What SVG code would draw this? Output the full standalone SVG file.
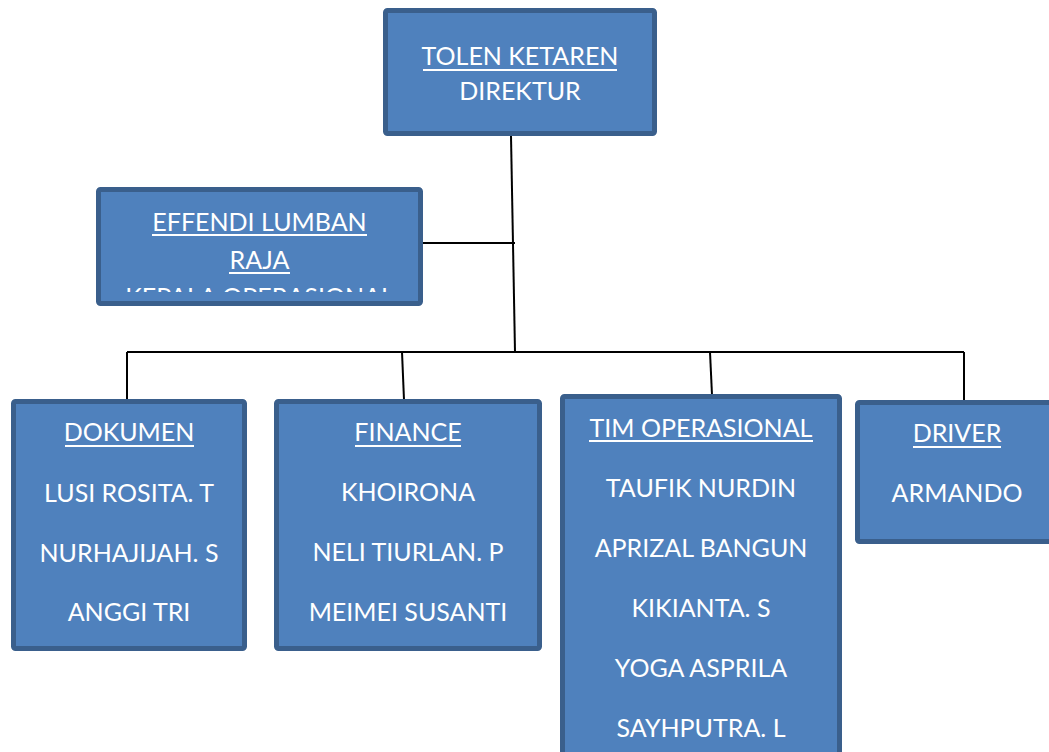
<svg xmlns="http://www.w3.org/2000/svg" width="1049" height="752" viewBox="0 0 1049 752">
<style>
.box{fill:#4F81BD;stroke:#3A5F8C;stroke-width:5}
.t{font-family:Lato,"Open Sans",sans-serif;font-size:25px;fill:#FFFFFF;text-anchor:middle}
.u{fill:#FFFFFF}
.c{fill:none;stroke:#000000;stroke-width:2}
</style>
<defs>
<clipPath id="clipE"><rect x="96" y="187" width="327" height="105"/></clipPath>
</defs>
<rect width="1049" height="752" fill="#FFFFFF"/>
<g id="connectors">
<path class="c" d="M511,136 L515,352"/>
<path class="c" d="M423,243 L515,243"/>
<path class="c" d="M127,352 L964,352"/>
<path class="c" d="M127,352 L127,400"/>
<path class="c" d="M402,352 L404,400"/>
<path class="c" d="M710,352 L712,395"/>
<path class="c" d="M964,352 L964,401"/>
</g>
<g id="direktur">
<rect class="box" x="385.5" y="10.5" width="269" height="123" rx="2"/>
<text class="t" x="520" y="65">TOLEN KETAREN</text>
<rect class="u" x="423" y="69" width="194" height="2"/>
<text class="t" x="520" y="100">DIREKTUR</text>
</g>
<g id="kepala-operasional">
<rect class="box" x="98.5" y="189.5" width="322" height="114" rx="2"/>
<text class="t" x="259.5" y="231">EFFENDI LUMBAN</text>
<rect class="u" x="152" y="234" width="215" height="2"/>
<text class="t" x="259.5" y="269">RAJA</text>
<rect class="u" x="229" y="272" width="61" height="2"/>
<text class="t" x="259.5" y="306" clip-path="url(#clipE)">KEPALA OPERASIONAL</text>
</g>
<g id="dokumen">
<rect class="box" x="13.5" y="401.5" width="231" height="247" rx="2"/>
<text class="t" x="129" y="441">DOKUMEN</text>
<rect class="u" x="65" y="445" width="129" height="2"/>
<text class="t" x="129" y="502">LUSI ROSITA. T</text>
<text class="t" x="129" y="562">NURHAJIJAH. S</text>
<text class="t" x="129" y="621">ANGGI TRI</text>
</g>
<g id="finance">
<rect class="box" x="276.5" y="401.5" width="263" height="247" rx="2"/>
<text class="t" x="408" y="441">FINANCE</text>
<rect class="u" x="355" y="445" width="106" height="2"/>
<text class="t" x="408" y="501">KHOIRONA</text>
<text class="t" x="408" y="561">NELI TIURLAN. P</text>
<text class="t" x="408" y="621">MEIMEI SUSANTI</text>
</g>
<g id="tim-operasional">
<rect class="box" x="562.5" y="396.5" width="277" height="380" rx="2"/>
<text class="t" x="701" y="437">TIM OPERASIONAL</text>
<rect class="u" x="589" y="440" width="224" height="2"/>
<text class="t" x="701" y="497">TAUFIK NURDIN</text>
<text class="t" x="701" y="557">APRIZAL BANGUN</text>
<text class="t" x="701" y="617">KIKIANTA. S</text>
<text class="t" x="701" y="677">YOGA ASPRILA</text>
<text class="t" x="701" y="737">SAYHPUTRA. L</text>
</g>
<g id="driver">
<rect class="box" x="857.5" y="402.5" width="201" height="139" rx="2"/>
<text class="t" x="957" y="442">DRIVER</text>
<rect class="u" x="913" y="446" width="88" height="2"/>
<text class="t" x="957" y="502">ARMANDO</text>
</g>
</svg>
